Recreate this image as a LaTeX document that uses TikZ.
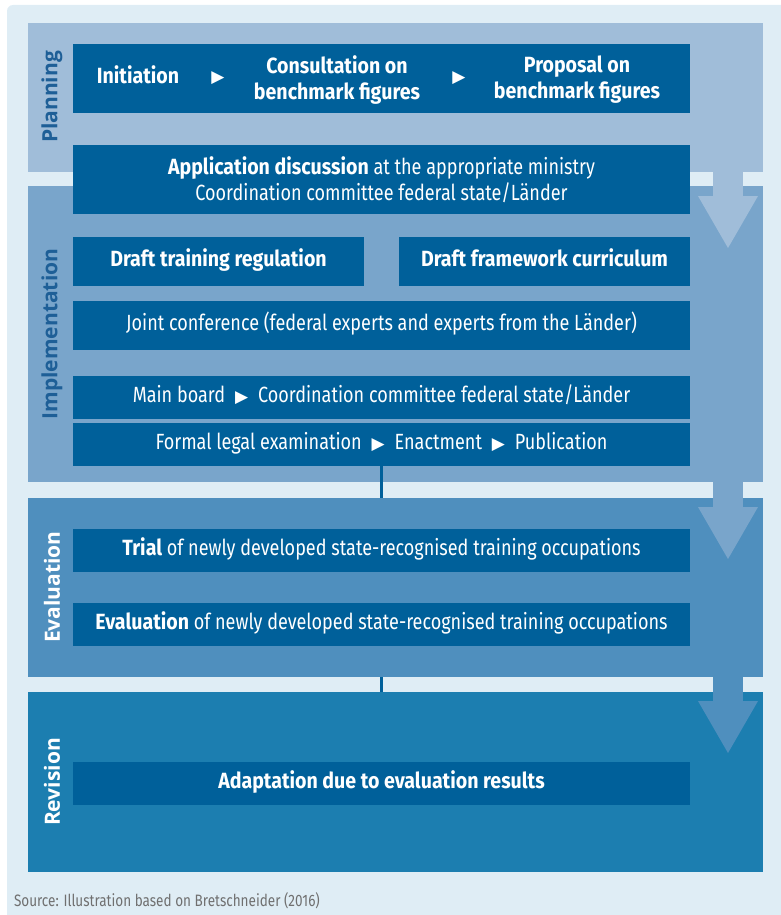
\documentclass[tikz,border=0pt]{standalone}
\usepackage{fontspec}
\setmainfont{Fira Sans}[UprightFeatures={FakeStretch=0.82}, BoldFeatures={FakeStretch=0.89}]
\newfontfamily\labelfont{Open Sans}
\newfontfamily\symfont{DejaVu Sans}
\usetikzlibrary{positioning}
\definecolor{bgblue}{HTML}{DFEDF5}
\definecolor{planblue}{HTML}{A0BDD9}
\definecolor{implblue}{HTML}{79A5CB}
\definecolor{evalblue}{HTML}{4F8FBE}
\definecolor{revblue}{HTML}{1C7EB0}
\definecolor{boxblue}{HTML}{00609A}
\definecolor{labelblue}{HTML}{1E5F97}
\definecolor{srcgray}{HTML}{707070}
\newcommand{\tri}{{\symfont\fontsize{17}{17}\selectfont\raisebox{0.5pt}{▶}}}
\newcommand{\nxt}{\hspace{0.45em}\tri\hspace{0.45em}}
\begin{document}
\begin{tikzpicture}[x=1pt, y=-1pt,
        every node/.style={inner sep=0pt, outer sep=0pt},
        band/.style={minimum width=735, anchor=north west},
        box/.style={fill=boxblue, text=white, align=center,
            font=\fontsize{22}{26}\selectfont},
        oneline/.style={text height=15, text depth=5},
        boxtext/.style={text=white, align=center,
            font=\fontsize{22}{26}\selectfont\bfseries},
        phase/.style={rotate=90, font=\labelfont\fontsize{21}{21}\selectfont\bfseries},
        link/.style={draw=boxblue, line width=3pt}
    ]
        \useasboundingbox (0,0) rectangle (781,915);
        \clip (0,0) rectangle (781,915);
        \fill[bgblue, rounded corners=6pt] (7,5) rectangle (800,940);

        % Phasen
        \node[band, fill=planblue, minimum height=149] (plan) at (28,23) {};
        \node[band, fill=implblue, minimum height=296] (impl) at (28,186) {};
        \node[band, fill=evalblue, minimum height=179] (eval) at (28,498) {};
        \node[band, fill=revblue, minimum height=180] (rev) at (28,692) {};

        \node[phase, text=labelblue] (planlbl) at (52,97) {Planning};
        \node[phase, text=labelblue] (impllbl) at (52,334) {Implementation};
        \node[phase, text=white] (evallbl) at (52,587) {Evaluation};
        \node[phase, text=white] (revlbl) at (52,782) {Revision};

        % Pfeile zwischen den Phasen
        \foreach \c/\t/\h in {planblue/172/196, implblue/482/507, evalblue/677/701} {
            \fill[\c] (713,\t) rectangle (743,\h+1);
            \fill[\c] (698,\h) -- (758,\h) -- (728,\h+52) -- cycle;
        }

        % Planung
        \node[box, minimum width=617, minimum height=69] (planrow) at (381.5,78.5) {};
        \node[boxtext] (init) at (138,75) {Initiation};
        \node[text=white] (tri1) at (218,78) {\tri};
        \node[boxtext] (consult) at (337,80) {Consultation on\\benchmark figures};
        \node[text=white] (tri2) at (459,78) {\tri};
        \node[boxtext] (propose) at (577,80) {Proposal on\\benchmark figures};
        \node[box, minimum width=617, minimum height=69] (appl) at (381.5,179.5)
            {\textbf{Application discussion} at the appropriate ministry\\Coordination committee federal state/Länder};

        % Umsetzung
        \node[box, oneline, minimum width=291, minimum height=49] (dtr) at (218.5,261.5) {\textbf{Draft training regulation}};
        \node[box, oneline, minimum width=291, minimum height=49] (dfc) at (544.5,261.5) {\textbf{Draft framework curriculum}};
        \node[box, oneline, minimum width=617, minimum height=49] (joint) at (381.5,325.5)
            {Joint conference (federal experts and experts from the Länder)};
        \node[box, oneline, minimum width=617, minimum height=43] (mainb) at (381.5,397.5)
            {Main board\nxt Coordination committee federal state/Länder};
        \node[box, oneline, minimum width=617, minimum height=43] (formal) at (381.5,444.5)
            {Formal legal examination\nxt Enactment\nxt Publication};

        % Evaluation
        \node[box, oneline, minimum width=617, minimum height=43] (trial) at (381.5,550.5)
            {\textbf{Trial} of newly developed state-recognised training occupations};
        \node[box, oneline, minimum width=617, minimum height=43] (evalbox) at (381.5,624.5)
            {\textbf{Evaluation} of newly developed state-recognised training occupations};

        % Revision
        \node[box, oneline, minimum width=617, minimum height=43] (adapt) at (381.5,783.5)
            {\textbf{Adaptation due to evaluation results}};

        % Verbindungen
        \draw[link] (formal.south) -- (formal.south |- eval.north);
        \draw[link] (formal.south |- eval.south) -- (formal.south |- rev.north);

        \node[anchor=west, text=srcgray, font=\fontsize{16.5}{16.5}\selectfont] (source) at (14,901)
            {Source: Illustration based on Bretschneider (2016)};
    \end{tikzpicture}
\end{document}
